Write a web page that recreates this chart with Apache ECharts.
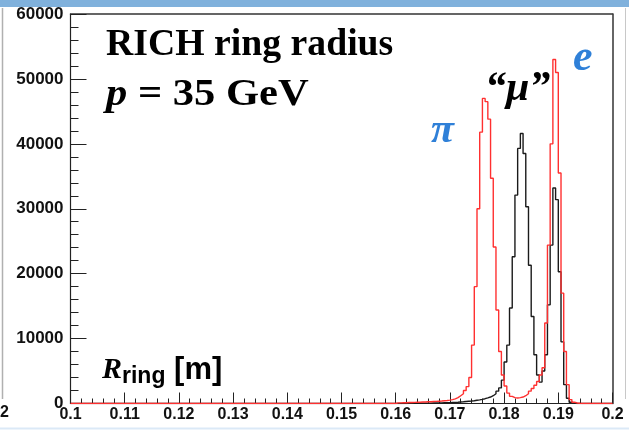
<!DOCTYPE html>
<html><head><meta charset="utf-8">
<script src="https://cdn.jsdelivr.net/npm/echarts@6/dist/echarts.min.js"></script>
<style>html,body{margin:0;padding:0;background:#fff;}#c{width:629px;height:433px;}</style>
</head><body><div id="c"></div>
<script>
// ---- data ----
const binStart = 0.16;      // first listed bin (left edge)
const binWidth = 0.0005;    // histogram bin width [m]
const xTickLabels = ['0.1','0.11','0.12','0.13','0.14','0.15','0.16','0.17','0.18','0.19','0.2'];
const yTickLabels = ['0','10000','20000','30000','40000','50000','60000'];
// pi + e sample (red)
const redCounts = [
  100,100,120,120,150,150,170,190,200,220,
  240,260,280,300,320,350,380,420,460,520,
  600,720,900,1200,1500,2000,2600,4000,9000,18000,
  30000,41800,47000,46500,43800,34700,24100,14400,8000,4400,
  2700,1600,1100,900,850,900,1000,1200,1500,1900,
  2300,2800,3400,4400,5500,12400,24400,40000,53000,51000,
  35500,17000,8000,2900,600,200,80,30,0,0,
  0,0
];
// "mu" sample (black)
const blackCounts = [
  0,0,0,0,20,20,30,30,40,40,
  50,50,60,70,80,90,100,110,120,140,
  160,180,200,230,260,300,340,380,430,500,
  560,640,740,860,1000,1200,1500,1900,2400,3600,
  6400,9000,14700,22600,32100,39300,41600,38500,30300,21300,
  13400,7500,4400,3300,5000,7500,15200,24400,33200,31400,
  20300,9500,2900,800,200,50,0,0,0,0,
  0,0
];

function histPoints(counts) {
  const pts = [[0.1, 0]];
  counts.forEach((c, i) => pts.push([+(binStart + i * binWidth).toFixed(5), c]));
  const end = +(binStart + counts.length * binWidth).toFixed(5);
  pts.push([end, 0]);
  pts.push([0.2, 0]);
  return pts;
}

const chart = echarts.init(document.getElementById('c'), null, {renderer: 'canvas'});
const sans = '"Liberation Sans", Arial, sans-serif';
const serif = '"Liberation Serif", "Times New Roman", serif';
const blue = '#2f80d8';

chart.setOption({
  animation: false,
  backgroundColor: '#fff',
  grid: {left: 70.5, right: 16.5, top: 14, bottom: 29.5, containLabel: false},
  xAxis: [{
    type: 'value', min: 0.1, max: 0.2, interval: 0.01,
    axisLine: {show: true, onZero: false, lineStyle: {color: '#222', width: 1.2}},
    axisTick: {show: true, inside: true, length: 11, lineStyle: {color: '#222'}},
    minorTick: {show: true, splitNumber: 5, length: 5, lineStyle: {color: '#222'}},
    splitLine: {show: false},
    axisLabel: {margin: 3, fontFamily: sans, fontWeight: 'bold', fontSize: 16, color: '#111',
      formatter: (v) => xTickLabels[Math.round((v - 0.1) / 0.01)]}
  }, {
    type: 'value', min: 0.1, max: 0.2, position: 'top',
    axisLine: {show: true, onZero: false, lineStyle: {color: '#333', width: 1.5}},
    axisTick: {show: false}, axisLabel: {show: false}, splitLine: {show: false}
  }],
  yAxis: [{
    type: 'value', min: 0, max: 60000, interval: 10000,
    axisLine: {show: true, onZero: false, lineStyle: {color: '#222', width: 1.2}},
    axisTick: {show: true, inside: true, length: 16, lineStyle: {color: '#222'}},
    minorTick: {show: true, splitNumber: 5, length: 8, lineStyle: {color: '#222'}},
    splitLine: {show: false},
    axisLabel: {margin: 7, fontFamily: sans, fontWeight: 'bold', fontSize: 17, color: '#111',
      formatter: (v) => yTickLabels[Math.round(v / 10000)]}
  }, {
    type: 'value', min: 0, max: 60000, position: 'right',
    axisLine: {show: true, onZero: false, lineStyle: {color: '#333', width: 1.5}},
    axisTick: {show: false}, axisLabel: {show: false}, splitLine: {show: false}
  }],
  series: [{
    type: 'line', step: 'end', showSymbol: false, data: histPoints(blackCounts),
    lineStyle: {color: '#1a1a1a', width: 1.4}, z: 3
  }, {
    type: 'line', step: 'end', showSymbol: false, data: histPoints(redCounts),
    lineStyle: {color: '#ff3030', width: 1.4}, z: 4
  }],
  graphic: [
    {type: 'rect', shape: {x: 0, y: 0, width: 629, height: 7}, style: {fill: '#80b1dc'}, silent: true},
    {type: 'line', shape: {x1: 2.5, y1: 8, x2: 2.5, y2: 399}, style: {stroke: '#b0b0b0', lineWidth: 1.5}},
    {type: 'line', shape: {x1: 625.5, y1: 8, x2: 625.5, y2: 399}, style: {stroke: '#c8c8c8', lineWidth: 1}},
    {type: 'line', shape: {x1: 0, y1: 428.5, x2: 629, y2: 428.5}, style: {stroke: '#dbe9f7', lineWidth: 2}},
    {type: 'text', style: {x: 0, y: 405, text: '2', font: 'bold 16px ' + sans, fill: '#111'}},
    {type: 'text', x: 106, y: 27, scaleX: 1.02, style: {x: 0, y: 0, text: 'RICH ring radius', font: 'bold 37px ' + serif, fill: '#000'}},
    {type: 'text', x: 106, y: 77, scaleX: 1.15, style: {x: 0, y: 0, text: '{i|p} = 35 GeV', font: 'bold 37px ' + serif, fill: '#000',
      rich: {i: {font: 'italic bold 37px ' + serif, fill: '#000'}}}},
    {type: 'text', style: {x: 431, y: 110, text: 'π', font: 'italic bold 42px ' + serif, fill: blue}},
    {type: 'text', style: {x: 573, y: 37, text: 'e', font: 'italic bold 44px ' + serif, fill: blue}},
    {type: 'text', style: {x: 485, y: 68, text: '\u201C\u03BC\u201D', font: 'italic bold 42px ' + serif, fill: '#000'}},
    {type: 'text', style: {x: 102, y: 353, text: '{R|R}{s|ring} [m]', font: 'bold 31px ' + sans, fill: '#000',
      rich: {R: {font: 'italic bold 30px ' + serif, fill: '#000'}, s: {font: 'bold 23px ' + sans, fill: '#000', padding: [12,0,0,0]}}}}
  ]
});
</script></body></html>
